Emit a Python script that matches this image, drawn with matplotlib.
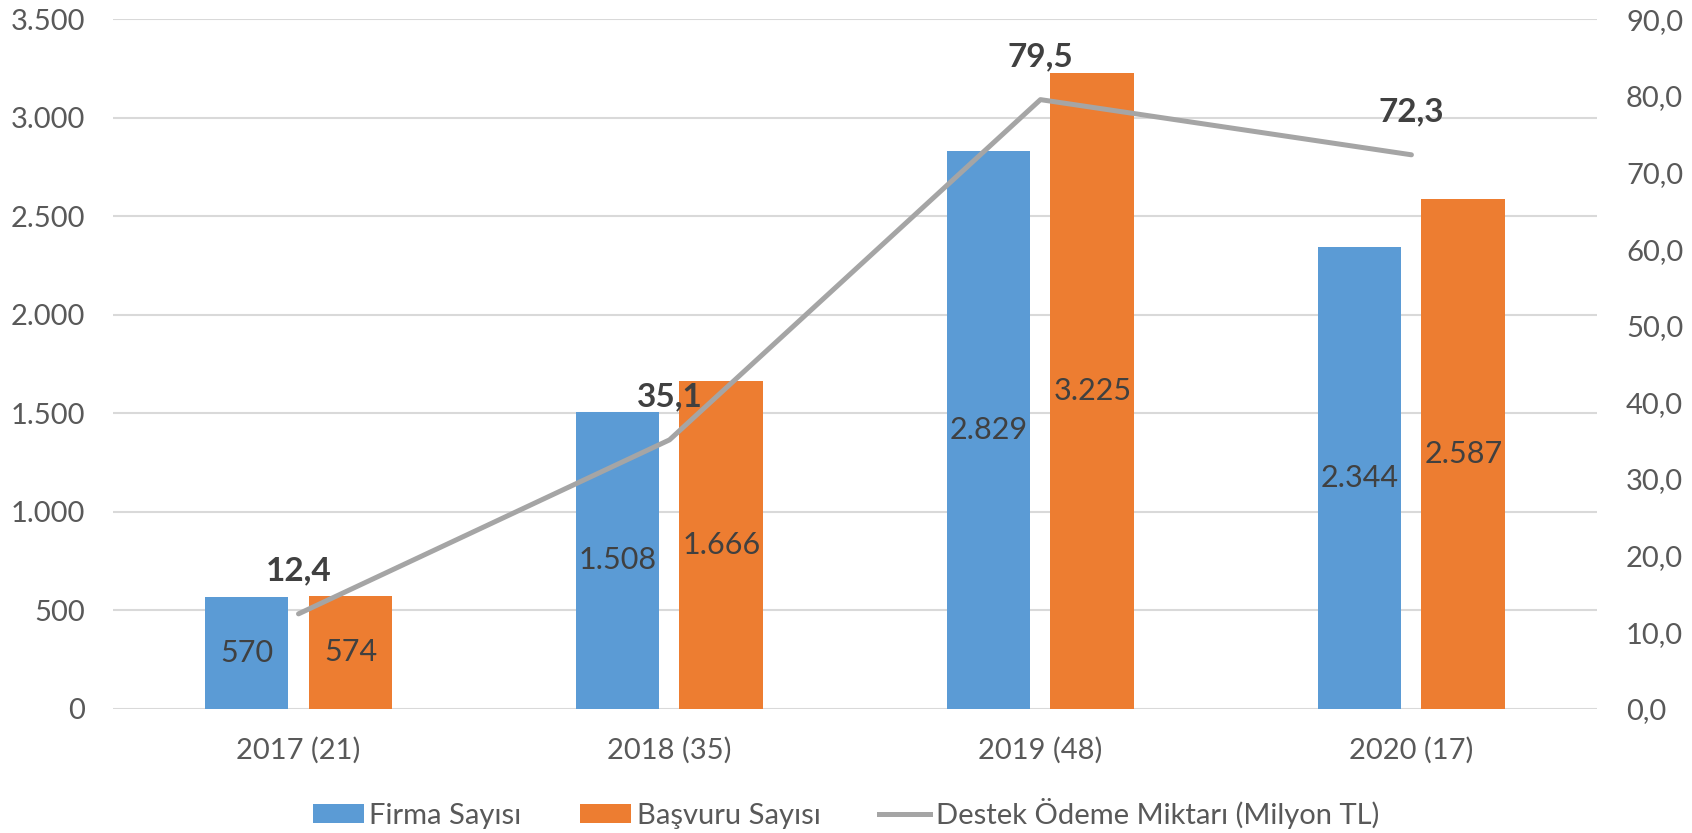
import matplotlib
matplotlib.use("Agg")
import matplotlib.pyplot as plt
from matplotlib.ticker import FuncFormatter
from matplotlib.patches import Patch
from matplotlib.lines import Line2D
import numpy as np

plt.rcParams['font.family'] = ['Lato', 'DejaVu Sans']

categories = ['2017 (21)', '2018 (35)', '2019 (48)', '2020 (17)']
firma = [570, 1508, 2829, 2344]
basvuru = [574, 1666, 3225, 2587]
destek = [12.4, 35.1, 79.5, 72.3]

BLUE = '#5B9BD5'
ORANGE = '#ED7D31'
GRAY = '#A5A5A5'
TXT = '#595959'
LBL = '#404040'


def dot_thousands(v, pos=None):
    return '{:,.0f}'.format(v).replace(',', '.')


def comma_dec(v, pos=None):
    return '{:.1f}'.format(v).replace('.', ',')


fig = plt.figure(figsize=(16.92, 8.33), dpi=100)
ax = fig.add_axes([0.0668, 0.149, 0.877, 0.828])
ax2 = ax.twinx()

x = np.arange(len(categories))
w = 0.226
off = 0.14
b1 = ax.bar(x - off, firma, w, color=BLUE, zorder=2)
b2 = ax.bar(x + off, basvuru, w, color=ORANGE, zorder=2)

for bars, vals in ((b1, firma), (b2, basvuru)):
    for r, v in zip(bars, vals):
        ax.text(r.get_x() + r.get_width() / 2, v / 2, dot_thousands(v),
                ha='center', va='center', fontsize=22, color=LBL, zorder=3)

ax.set_xlim(-0.5, len(categories) - 0.5)
ax.set_ylim(0, 3500)
ax.set_yticks(np.arange(0, 3501, 500))
ax.yaxis.set_major_formatter(FuncFormatter(dot_thousands))
ax.set_xticks(x)
ax.set_xticklabels(categories)
ax.grid(axis='y', color='#D9D9D9', linewidth=1.5, zorder=0)
ax.set_axisbelow(True)

ax2.plot(x, destek, color=GRAY, linewidth=3.6, solid_capstyle='round', zorder=4)
for xi, v in zip(x, destek):
    ax2.annotate(comma_dec(v), (xi, v), xytext=(0, 43), textcoords='offset pixels',
                 ha='center', va='center', fontsize=24, fontweight='bold', color=LBL)
ax2.set_ylim(0, 90)
ax2.set_yticks(np.arange(0, 91, 10))
ax2.yaxis.set_major_formatter(FuncFormatter(comma_dec))

for a in (ax, ax2):
    for s in a.spines.values():
        s.set_visible(False)
    a.tick_params(length=0, labelsize=21, labelcolor=TXT)
ax.tick_params(axis='y', pad=20)
ax.tick_params(axis='x', pad=20)
ax2.tick_params(axis='y', pad=21)

handles = [Patch(facecolor=BLUE), Patch(facecolor=ORANGE),
           Line2D([0], [0], color=GRAY, linewidth=3.6)]
labels = ['Firma Sayısı', 'Başvuru Sayısı', 'Destek Ödeme Miktarı (Milyon TL)']
fig.legend(handles, labels, loc='center', bbox_to_anchor=(0.5, 0.024), ncol=3,
           frameon=False, fontsize=21, labelcolor=TXT, handlelength=1.75,
           handleheight=0.65, handletextpad=0.2, columnspacing=2.0)

fig.savefig('out.png', dpi=100)
